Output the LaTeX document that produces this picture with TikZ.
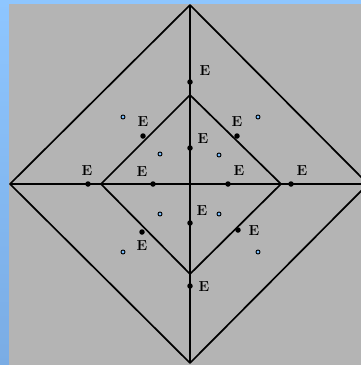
\documentclass[tikz,border=0pt]{standalone}
\begin{document}
\begin{tikzpicture}[x=1pt,y=-1pt,
  edge/.style={line width=1.7pt,line join=round},
  pt/.style={circle,fill=black,inner sep=0pt,minimum size=5.5pt},
  lab/.style={inner sep=0pt,font=\fontsize{14.5}{14.5}\selectfont\bfseries},
  hole/.style={circle,draw=black,fill=holeblue,line width=0.9pt,inner sep=0pt,minimum size=4pt}]
\definecolor{bgblue}{RGB}{142,198,255}
\definecolor{bgblue2}{RGB}{122,172,228}
\definecolor{panel}{RGB}{180,180,180}
\definecolor{holeblue}{RGB}{120,190,255}
\useasboundingbox (0,0) rectangle (361,365);
\fill[bgblue] (0,0) rectangle (361,365);
\shade[top color=bgblue,bottom color=bgblue2] (0,0) rectangle (9,365);
\fill[panel] (9,4) rectangle (361,365);
% outer diamond
\coordinate (T) at (190,5);
\coordinate (B) at (190,363);
\coordinate (L) at (10,184);
\coordinate (R) at (368,184);
\coordinate (Rr) at (361,184);
% inner diamond
\coordinate (t) at (190,95);
\coordinate (b) at (190,274);
\coordinate (l) at (101,184);
\coordinate (r) at (281,184);
\begin{scope}
\clip (9,4) rectangle (361,365);
\draw[edge] (L) -- (T) -- (R) -- (B) -- cycle;
\end{scope}
\draw[edge] (l) -- (t) -- (r) -- (b) -- cycle;
\draw[edge] (L) -- (Rr);
\draw[edge] (T) -- (B);
% points and labels
\node[pt] (p1) at (190,82) {};   \node[lab] (e1) at (205,71) {E};
\node[pt] (p2) at (143,136) {};  \node[lab] (e2) at (143,122) {E};
\node[pt] (p3) at (237,136) {};  \node[lab] (e3) at (237,122) {E};
\node[pt] (p4) at (190,148) {};  \node[lab] (e4) at (203,139) {E};
\node[pt] (p5) at (88,184) {};   \node[lab] (e5) at (87,171) {E};
\node[pt] (p6) at (153,184) {};  \node[lab] (e6) at (142,172) {E};
\node[pt] (p7) at (228,184) {};  \node[lab] (e7) at (239,171) {E};
\node[pt] (p8) at (291,184) {};  \node[lab] (e8) at (302,171) {E};
\node[pt] (p9) at (190,223) {};  \node[lab] (e9) at (202,211) {E};
\node[pt] (p10) at (142,232) {}; \node[lab] (e10) at (142,246) {E};
\node[pt] (p11) at (238,230) {}; \node[lab] (e11) at (254,231) {E};
\node[pt] (p12) at (190,286) {}; \node[lab] (e12) at (204,287) {E};
% small holes
\node[hole] (h1) at (123,117) {};
\node[hole] (h2) at (258,117) {};
\node[hole] (h3) at (160,154) {};
\node[hole] (h4) at (219,155) {};
\node[hole] (h5) at (160,214) {};
\node[hole] (h6) at (219,214) {};
\node[hole] (h7) at (123,252) {};
\node[hole] (h8) at (258,252) {};
\end{tikzpicture}
\end{document}
